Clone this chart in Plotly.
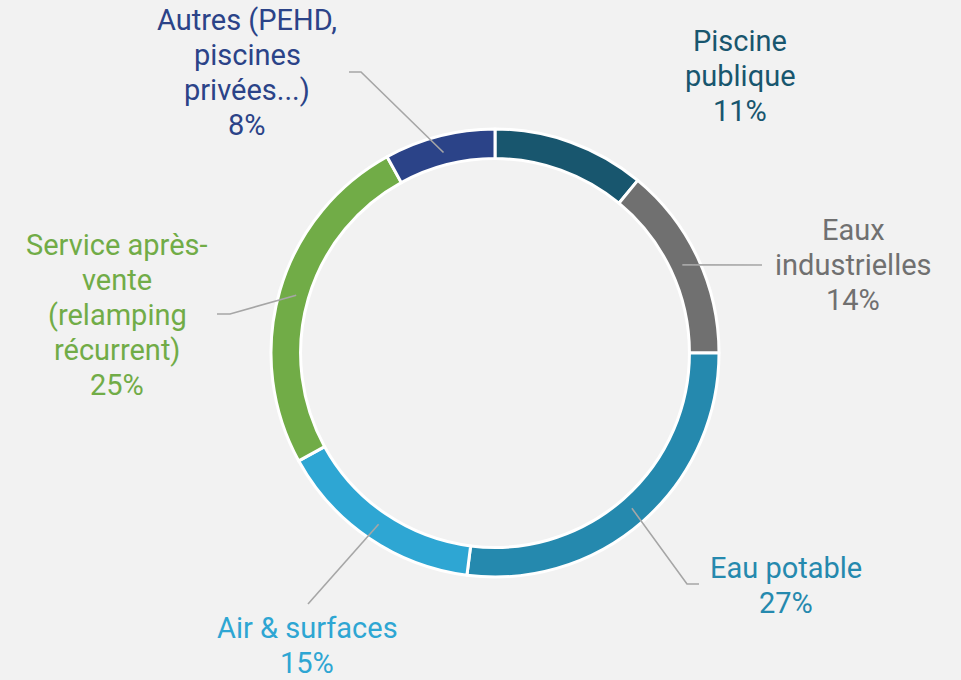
import math
import plotly.graph_objects as go

# ---- data ----
categories = ["Piscine publique", "Eaux industrielles", "Eau potable",
              "Air & surfaces", "Service après-vente (relamping récurrent)",
              "Autres (PEHD, piscines privées...)"]
label_lines = [["Piscine", "publique"], ["Eaux", "industrielles"], ["Eau potable"],
               ["Air & surfaces"], ["Service après-", "vente", "(relamping", "récurrent)"],
               ["Autres (PEHD,", "piscines", "privées...)"]]
shares = [11, 14, 27, 15, 25, 8]
colors = ["#18566E", "#707070", "#2589AE", "#2EA6D3", "#71AC47", "#2B4388"]

# ---- layout constants (pixels) ----
W, H = 961, 680
CX, CY, R = 495, 353, 224
HOLE = 0.868
R_MID = 207
FONT = "Roboto"
FS = 29
LINE_H = 35
# label centres and leader elbow/end per slice (None = no leader)
label_pos = [(740, 76), (853, 265), (786, 585), (307, 645), (117, 315), (247, 72)]
leaders = [None, [(762, 265)], [(687, 584), (699, 584)], [(308, 604)],
           [(230, 314), (217, 314)], [(361, 72), (349, 72)]]

fig = go.Figure()
fig.add_trace(go.Pie(
    labels=categories, values=shares, sort=False, direction="clockwise",
    rotation=0, hole=HOLE, textinfo="none", hoverinfo="skip",
    marker=dict(colors=colors, line=dict(color="white", width=3)),
    domain=dict(x=[(CX - R) / W, (CX + R) / W], y=[(H - CY - R) / H, (H - CY + R) / H]),
    showlegend=False,
))
# invisible trace to activate pixel-based axes
fig.add_trace(go.Scatter(x=[0, W], y=[0, H], mode="markers", marker=dict(opacity=0),
                         hoverinfo="skip", showlegend=False))

total = sum(shares)
cum = 0
for i, v in enumerate(shares):
    mid = (cum + v / 2) / total * 2 * math.pi
    cum += v
    if leaders[i] is not None:
        sx = CX + R_MID * math.sin(mid)
        sy = CY - R_MID * math.cos(mid)
        pts = [(sx, sy)] + leaders[i]
        path = "M " + " L ".join(f"{px:.1f},{py:.1f}" for px, py in pts)
        fig.add_shape(type="path", path=path, xref="x", yref="y", layer="above",
                      line=dict(color="#A6A6A6", width=1.6))
    lines = label_lines[i] + [f"{v}%"]
    lx, ly = label_pos[i]
    n = len(lines)
    for j, t in enumerate(lines):
        fig.add_annotation(x=lx, y=ly + (j - (n - 1) / 2) * LINE_H, xref="x", yref="y",
                           text=t, showarrow=False, xanchor="center", yanchor="middle",
                           font=dict(family=FONT, size=FS, color=colors[i]))

fig.update_layout(
    width=W, height=H, margin=dict(l=0, r=0, t=0, b=0),
    paper_bgcolor="#F2F2F2", plot_bgcolor="rgba(0,0,0,0)",
    xaxis=dict(range=[0, W], visible=False, domain=[0, 1], fixedrange=True),
    yaxis=dict(range=[H, 0], visible=False, domain=[0, 1], fixedrange=True),
)
fig.write_html("out.html", config={"displayModeBar": False},
               post_script="document.body.style.margin='0';document.body.style.overflow='hidden';")
